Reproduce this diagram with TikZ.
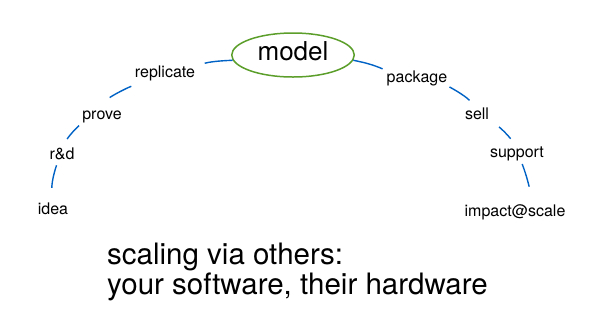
\documentclass[tikz,border=0pt]{standalone}
\usepackage{fontspec}
\setmainfont{TeX Gyre Heros}
\usetikzlibrary{shapes.geometric}
\definecolor{linkblue}{RGB}{0,98,196}
\definecolor{modelgreen}{RGB}{92,158,42}
\begin{document}
\begin{tikzpicture}[x=1pt,y=1pt,
  lbl/.style={inner sep=0pt, outer sep=0pt, anchor=base, font=\fontsize{16}{19}\selectfont},
  conn/.style={draw=linkblue, line width=1.4pt},
  ]
\useasboundingbox (0,0) rectangle (592,-333);
\node[ellipse, draw=modelgreen, line width=1.5pt, minimum width=122.5pt, minimum height=44pt,
      inner sep=0pt, text depth=7.4pt, font=\fontsize{26}{30}\selectfont] (model) at (293,-55) {model};
\node[lbl] (idea) at (53,-214) {idea};
\node[lbl] (rd) at (62,-159.3) {r\&d};
\node[lbl] (prove) at (102,-119) {prove};
\node[lbl] (replicate) at (165,-77.3) {replicate};
\node[lbl] (package) at (417,-82.3) {package};
\node[lbl] (sell) at (477,-119.3) {sell};
\node[lbl] (support) at (517,-157.7) {support};
\node[lbl] (impact) at (515,-216) {impact@scale};
\draw[conn, shorten <=14.5pt, shorten >=6pt] (idea.north) to[bend left=12] (rd.240);
\draw[conn, shorten <=10pt, shorten >=4.5pt] (rd.north) to[bend left=8] (prove.south west);
\draw[conn, shorten <=21pt, shorten >=15pt] (prove.146) to[bend left=8] (replicate.201);
\draw[conn, shorten <=10pt] (replicate.north east) to[bend left=6] (model.185);
\draw[conn, shorten >=4.5pt] (model.-5) to[bend left=6] (package.north west);
\draw[conn, shorten <=2.5pt, shorten >=10.5pt] (package.south east) to[bend left=8] (sell.north);
\draw[conn, shorten <=12.5pt, shorten >=10.4pt] (sell.south east) to[bend left=8] (support.north);
\draw[conn, shorten <=3pt, shorten >=17.5pt] (support.-60) to[bend left=10] (impact.28);
\node[anchor=base west, align=left, inner sep=0pt, font=\fontsize{29.5}{28}\selectfont] (caption)
  at (107,-294) {scaling via others:\\your software, their hardware};
\end{tikzpicture}
\end{document}
